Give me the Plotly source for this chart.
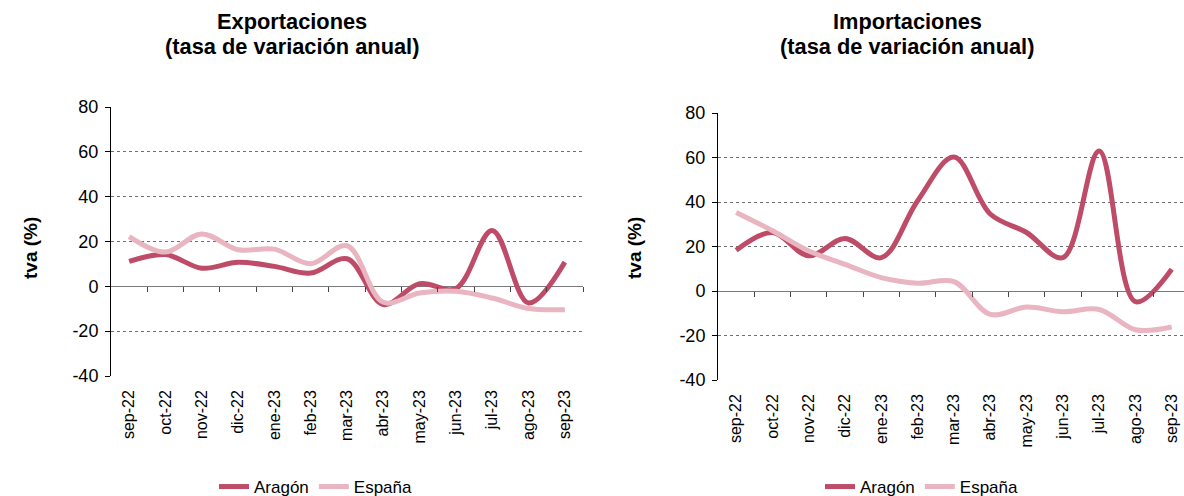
import plotly.graph_objects as go

months = ["sep-22", "oct-22", "nov-22", "dic-22", "ene-23", "feb-23", "mar-23",
          "abr-23", "may-23", "jun-23", "jul-23", "ago-23", "sep-23"]

exp_aragon = [11.1, 14.2, 8.1, 10.7, 8.9, 5.9, 12.3, -8.1, 1.2, -1.0, 24.9, -7.4, 10.8]
exp_espana = [22.2, 15.3, 23.4, 16.3, 16.6, 10.1, 18.1, -7.1, -3.0, -2.2, -5.2, -9.9, -10.4]

imp_aragon = [18.3, 26.3, 15.8, 23.6, 15.0, 40.6, 60.2, 34.6, 26.3, 15.0, 62.9, -4.8, 9.8]
imp_espana = [35.3, 27.1, 18.0, 12.0, 6.0, 3.5, 4.2, -10.5, -7.2, -9.3, -8.3, -17.4, -16.2]

yticks = [-40, -20, 0, 20, 40, 60, 80]
yticklabels = ["-40", "-20", "0", "20", "40", "60", "80"]
series_names = ["Aragón", "España"]

C_ARAGON = "#BE4B67"
C_ESPANA = "#E8B5C1"
W, H = 1184, 496
FONT = "Liberation Sans, Arial, sans-serif"

x = list(range(len(months)))

fig = go.Figure()

panels = [
    ("Exportaciones", exp_aragon, exp_espana, "x", "y", "x3", "legend", 111, 583, 107, 376, 12.5),
    ("Importaciones", imp_aragon, imp_espana, "x2", "y2", "x4", "legend2", 718, 1184, 113, 380, -0.5 + (1184 - 718) / 36.3),
]

for (title, ar, es, xa, ya, xo, lg, xl, xr, yt, yb, xmax) in panels:
    for name, vals, col in ((series_names[0], ar, C_ARAGON), (series_names[1], es, C_ESPANA)):
        fig.add_trace(go.Scatter(
            x=x, y=vals, name=name, mode="lines",
            line=dict(color=col, width=5, shape="spline", smoothing=1.0),
            xaxis=xa, yaxis=ya, legend=lg, hoverinfo="skip",
        ))
    # empty helper trace so the zero-line tick axis is drawn
    fig.add_trace(go.Scatter(x=[], y=[], xaxis=xo, yaxis=ya, showlegend=False,
                             hoverinfo="skip"))

layout = dict(
    width=W, height=H,
    margin=dict(l=0, r=0, t=0, b=0, autoexpand=False),
    paper_bgcolor="white", plot_bgcolor="white",
    font=dict(family=FONT, size=17, color="black"),
    showlegend=True,
    annotations=[],
)

for i, (title, ar, es, xa, ya, xo, lg, xl, xr, yt, yb, xmax) in enumerate(panels):
    xd = [xl / W, min(1.0, xr / W)]
    yd = [1 - yb / H, 1 - yt / H]
    zero_pos = yd[0] + (yd[1] - yd[0]) * (0 - yticks[0]) / (yticks[-1] - yticks[0])
    xkey = "xaxis" if xa == "x" else "xaxis" + xa[1:]
    ykey = "yaxis" if ya == "y" else "yaxis" + ya[1:]
    okey = "xaxis" + xo[1:]
    layout[xkey] = dict(
        domain=xd, anchor=ya, range=[-0.5, xmax], automargin=False,
        tickmode="array", tickvals=x, ticktext=months, tickangle=-90,
        showgrid=False, zeroline=False, showline=False, ticks="",
        ticklabelstandoff=10, tickfont=dict(size=16),
    )
    layout[okey] = dict(
        overlaying=xa, anchor="free", position=zero_pos, range=[-0.5, xmax],
        automargin=False,
        tickmode="array", tickvals=[k + 0.5 for k in x], showticklabels=False,
        ticks="outside", ticklen=5, tickcolor="#444444", tickwidth=1.2,
        showgrid=False, zeroline=False, showline=False,
    )
    layout[ykey] = dict(
        domain=yd, anchor=xa, range=[yticks[0], yticks[-1]], automargin=False,
        tickmode="array", tickvals=yticks, ticktext=yticklabels,
        showline=True, linecolor="black", linewidth=1,
        ticks="outside", ticklen=5, tickcolor="black",
        showgrid=True, gridcolor="#6e6e6e", griddash="dot", gridwidth=1,
        zeroline=True, zerolinecolor="#7a7a7a", zerolinewidth=1.3,
        tickfont=dict(size=18), ticklabelstandoff=3,
    )
    tcx = [292, 907][i] / W
    for line_text, ypx in ((title, 22), ("(tasa de variación anual)", 46)):
        layout["annotations"].append(dict(
            text="<b>" + line_text + "</b>",
            x=tcx, y=1 - ypx / H, xref="paper", yref="paper",
            xanchor="center", yanchor="middle", showarrow=False,
            font=dict(size=21.8, family=FONT),
        ))
    layout["annotations"].append(dict(
        text="<b>tva (%)</b>", textangle=-90,
        x=[30, 634][i] / W, y=1 - 248 / H, xref="paper", yref="paper",
        xanchor="center", yanchor="middle", showarrow=False,
        font=dict(size=19, family=FONT),
    ))
    layout[lg] = dict(
        orientation="h", x=[316, 922][i] / W, y=1 - 487 / H,
        xref="container", yref="container",
        xanchor="center", yanchor="middle",
        font=dict(size=17, family=FONT), bgcolor="rgba(0,0,0,0)",
        itemwidth=30, tracegroupgap=0,
    )

fig.update_layout(**layout)
fig.write_html("out.html", config={"displayModeBar": False},
               post_script="document.body.style.margin='0';")
